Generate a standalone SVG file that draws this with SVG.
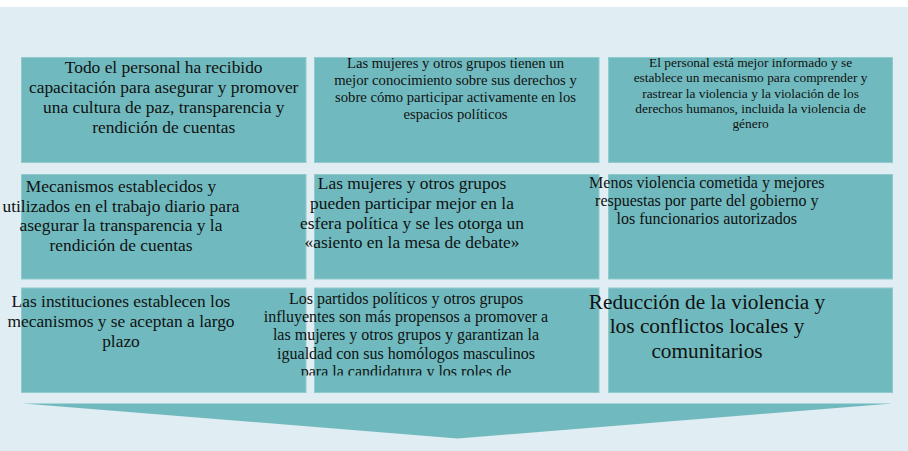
<svg xmlns="http://www.w3.org/2000/svg" width="908" height="451" viewBox="0 0 908 451">
<style>
.box{fill:#70babf;stroke:#8fcacd;stroke-width:1}
text{font-family:"Liberation Serif","Times New Roman",serif;fill:#111;text-anchor:middle}
.f134{font-size:13.4px}.f147{font-size:14.7px}.f16{font-size:16px}.f17{font-size:17.4px}.f21{font-size:21.3px}
</style>
<defs>
<clipPath id="clipR3B2"><rect x="0" y="0" width="908" height="375.5"/></clipPath>
</defs>
<rect x="0" y="0" width="908" height="451" fill="#ffffff"/>
<rect x="0" y="7" width="908" height="444" fill="#e0edf2"/>
<g id="r1b1">
<rect class="box" x="21.5" y="57.5" width="284.5" height="105"/>
<text class="f17" x="163.7"><tspan x="163.7" y="73.3">Todo el personal ha recibido</tspan><tspan x="163.7" y="93.2">capacitación para asegurar y promover</tspan><tspan x="163.7" y="113">una cultura de paz, transparencia y</tspan><tspan x="163.7" y="132.8">rendición de cuentas</tspan></text>
</g>
<g id="r1b2">
<rect class="box" x="314.5" y="57.5" width="284.5" height="105"/>
<text class="f147" x="455.5"><tspan x="455.5" y="67.7">Las mujeres y otros grupos tienen un</tspan><tspan x="455.5" y="84.8">mejor conocimiento sobre sus derechos y</tspan><tspan x="455.5" y="101.9">sobre cómo participar activamente en los</tspan><tspan x="455.5" y="119">espacios políticos</tspan></text>
</g>
<g id="r1b3">
<rect class="box" x="608.5" y="57.5" width="284" height="105"/>
<text class="f134" x="750.6"><tspan x="750.6" y="66.7">El personal está mejor informado y se</tspan><tspan x="750.6" y="82.1">establece un mecanismo para comprender y</tspan><tspan x="750.6" y="97.5">rastrear la violencia y la violación de los</tspan><tspan x="750.6" y="112.9">derechos humanos, incluida la violencia de</tspan><tspan x="750.6" y="128.3">género</tspan></text>
</g>
<g id="r2b1">
<rect class="box" x="21.5" y="174.5" width="284.5" height="104.5"/>
<text class="f17" x="121"><tspan x="121" y="192.3">Mecanismos establecidos y</tspan><tspan x="121" y="211.8">utilizados en el trabajo diario para</tspan><tspan x="121" y="231.3">asegurar la transparencia y la</tspan><tspan x="121" y="250.7">rendición de cuentas</tspan></text>
</g>
<g id="r2b2">
<rect class="box" x="314.5" y="174.5" width="284.5" height="104.5"/>
<text class="f17" x="412"><tspan x="412" y="189.3">Las mujeres y otros grupos</tspan><tspan x="412" y="209">pueden participar mejor en la</tspan><tspan x="412" y="228.7">esfera política y se les otorga un</tspan><tspan x="412" y="248.3">«asiento en la mesa de debate»</tspan></text>
</g>
<g id="r2b3">
<rect class="box" x="608.5" y="174.5" width="284" height="104.5"/>
<text class="f16" x="706.8"><tspan x="706.8" y="188.3">Menos violencia cometida y mejores</tspan><tspan x="706.8" y="206.3">respuestas por parte del gobierno y</tspan><tspan x="706.8" y="224.3">los funcionarios autorizados</tspan></text>
</g>
<g id="r3b1">
<rect class="box" x="21.5" y="288" width="284.5" height="104.5"/>
<text class="f17" x="121"><tspan x="121" y="307.3">Las instituciones establecen los</tspan><tspan x="121" y="327">mecanismos y se aceptan a largo</tspan><tspan x="121" y="346.7">plazo</tspan></text>
</g>
<g id="r3b2">
<rect class="box" x="314.5" y="288" width="284.5" height="104.5"/>
<text class="f16" x="406" clip-path="url(#clipR3B2)"><tspan x="406" y="304">Los partidos políticos y otros grupos</tspan><tspan x="406" y="322.2">influyentes son más propensos a promover a</tspan><tspan x="406" y="340.4">las mujeres y otros grupos y garantizan la</tspan><tspan x="406" y="358.6">igualdad con sus homólogos masculinos</tspan><tspan x="406" y="376.8">para la candidatura y los roles de</tspan></text>
</g>
<g id="r3b3">
<rect class="box" x="608.5" y="288" width="284" height="104.5"/>
<text class="f21" x="707"><tspan x="707" y="309">Reducción de la violencia y</tspan><tspan x="707" y="333.3">los conflictos locales y</tspan><tspan x="707" y="357.7">comunitarios</tspan></text>
</g>
<g id="connectors">
<polygon points="23,403.5 892.5,403.5 457.5,438.5" fill="#70babf"/>
</g>
</svg>
